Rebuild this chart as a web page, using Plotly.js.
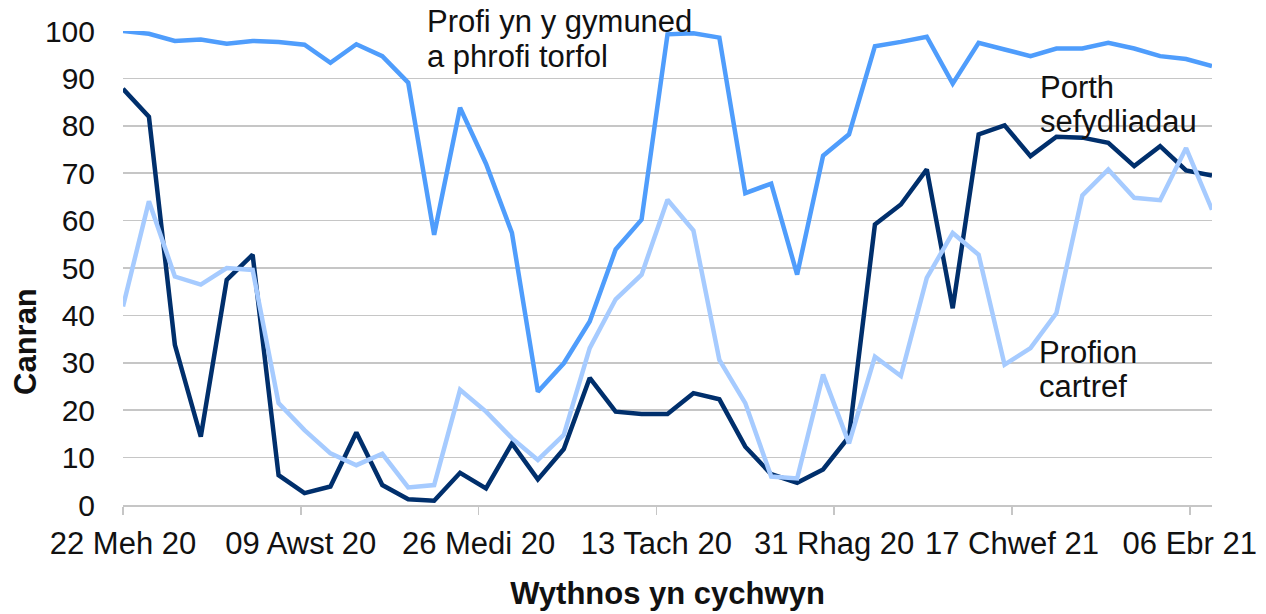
<!DOCTYPE html>
<html>
<head>
<meta charset="utf-8">
<script src="https://cdn.plot.ly/plotly-3.0.1.min.js"></script>
<style>
  html, body { margin: 0; padding: 0; background: #ffffff; }
  #chart { width: 1266px; height: 614px; }
</style>
</head>
<body>
<div id="chart"></div>
<script>
// Week starting (weekly, Mondays)
const weeks = [
  "2020-06-22","2020-06-29","2020-07-06","2020-07-13","2020-07-20","2020-07-27",
  "2020-08-03","2020-08-10","2020-08-17","2020-08-24","2020-08-31",
  "2020-09-07","2020-09-14","2020-09-21","2020-09-28",
  "2020-10-05","2020-10-12","2020-10-19","2020-10-26",
  "2020-11-02","2020-11-09","2020-11-16","2020-11-23","2020-11-30",
  "2020-12-07","2020-12-14","2020-12-21","2020-12-28",
  "2021-01-04","2021-01-11","2021-01-18","2021-01-25",
  "2021-02-01","2021-02-08","2021-02-15","2021-02-22",
  "2021-03-01","2021-03-08","2021-03-15","2021-03-22","2021-03-29",
  "2021-04-05","2021-04-12"
];

// Profi yn y gymuned a phrofi torfol
const communityTesting = [
  100, 99.4, 97.9, 98.2, 97.3, 97.9, 97.7, 97.1, 93.3, 97.2, 94.7,
  89.1, 57.0, 83.8, 72.0, 57.4, 23.9, 29.9, 38.7, 53.9, 60.2,
  99.3, 99.5, 98.6, 65.8, 67.8, 48.6, 73.7, 78.2, 96.8, 97.7,
  98.8, 88.9, 97.5, 96.1, 94.7, 96.3, 96.3, 97.5, 96.3, 94.7, 94.1, 92.6
];

// Porth sefydliadau
const institutionPortal = [
  87.8, 81.9, 33.8, 14.4, 47.5, 52.8, 6.3, 2.5, 3.9, 15.3, 4.2,
  1.2, 0.9, 6.8, 3.5, 13.0, 5.4, 11.8, 26.8, 19.7, 19.2,
  19.2, 23.6, 22.3, 12.3, 6.5, 4.7, 7.5, 14.4, 59.2, 63.4,
  70.8, 41.5, 78.2, 80.1, 73.6, 77.7, 77.5, 76.4, 71.5, 75.7, 70.6, 69.5
];

// Profion cartref
const homeTests = [
  41.9, 64.1, 48.2, 46.5, 50.0, 49.6, 21.5, 15.8, 10.9, 8.4, 10.8,
  3.7, 4.2, 24.3, 19.7, 14.1, 9.5, 14.8, 33.1, 43.4, 48.6,
  64.4, 57.9, 30.6, 21.5, 6.0, 5.6, 27.5, 13.0, 31.3, 27.2,
  47.9, 57.4, 52.8, 29.6, 33.1, 40.5, 65.3, 70.8, 64.8, 64.3, 75.3, 62.3
];

const tickDates = ["2020-06-22","2020-08-09","2020-09-26","2020-11-13","2020-12-31","2021-02-17","2021-04-06"];
const tickLabels = ["22 Meh 20","09 Awst 20","26 Medi 20","13 Tach 20","31 Rhag 20","17 Chwef 21","06 Ebr 21"];

const seriesNames = ["Profi yn y gymuned a phrofi torfol", "Porth sefydliadau", "Profion cartref"];

const FONT = "Liberation Sans, Arial, sans-serif";
const TXT = "#111111";
const GRID = "#c6c6c6";

const traces = [
  { x: weeks, y: communityTesting, name: seriesNames[0], type: "scatter", mode: "lines",
    line: { color: "#4f9dfc", width: 4.5 } },
  { x: weeks, y: institutionPortal, name: seriesNames[1], type: "scatter", mode: "lines",
    line: { color: "#002f6c", width: 4.5 } },
  { x: weeks, y: homeTests, name: seriesNames[2], type: "scatter", mode: "lines",
    line: { color: "#a6cbff", width: 4.5 } }
];

const ann = (text, x, y, extra) => Object.assign({
  text: text, xref: "paper", yref: "paper", x: x, y: y,
  xanchor: "left", yanchor: "middle", showarrow: false,
  font: { family: FONT, size: 31, color: TXT }
}, extra || {});

const layout = {
  width: 1266, height: 614,
  margin: { l: 123, r: 54, t: 31, b: 109 },
  paper_bgcolor: "#ffffff", plot_bgcolor: "#ffffff",
  showlegend: false,
  font: { family: FONT, size: 30, color: TXT },
  xaxis: {
    type: "date",
    range: ["2020-06-22", "2021-04-12"],
    tickmode: "array",
    tickvals: tickDates,
    ticktext: tickLabels,
    ticks: "outside", ticklen: 8, tickwidth: 1.5, tickcolor: GRID,
    showline: true, linecolor: GRID, linewidth: 1.5,
    showgrid: false, zeroline: false,
    tickfont: { family: FONT, size: 31, color: TXT },
    ticklabelstandoff: 2,
    title: { text: "<b>Wythnos yn cychwyn</b>", font: { family: FONT, size: 31, color: TXT }, standoff: 22 }
  },
  yaxis: {
    range: [0, 100],
    tickmode: "linear", tick0: 0, dtick: 10,
    showgrid: true, gridcolor: GRID, gridwidth: 1.5,
    zeroline: false, showline: false,
    ticks: "",
    tickfont: { family: FONT, size: 30, color: TXT },
    ticklabelstandoff: 27
  },
  annotations: [
    ann("Profi yn y gymuned", (425 - 123) / 1089, (505 - 22) / 474),
    ann("a phrofi torfol", (425 - 123) / 1089, (505 - 56) / 474),
    ann("Porth", (1038 - 123) / 1089, (505 - 87) / 474),
    ann("sefydliadau", (1038 - 123) / 1089, (505 - 121) / 474),
    ann("Profion", (1037 - 123) / 1089, (505 - 352) / 474),
    ann("cartref", (1037 - 123) / 1089, (505 - 386) / 474),
    ann("<b>Canran</b>", (25 - 123) / 1089, (505 - 342) / 474,
        { xanchor: "center", textangle: -90 })
  ]
};

Plotly.newPlot("chart", traces, layout, { displayModeBar: false, staticPlot: true });
</script>
</body>
</html>
